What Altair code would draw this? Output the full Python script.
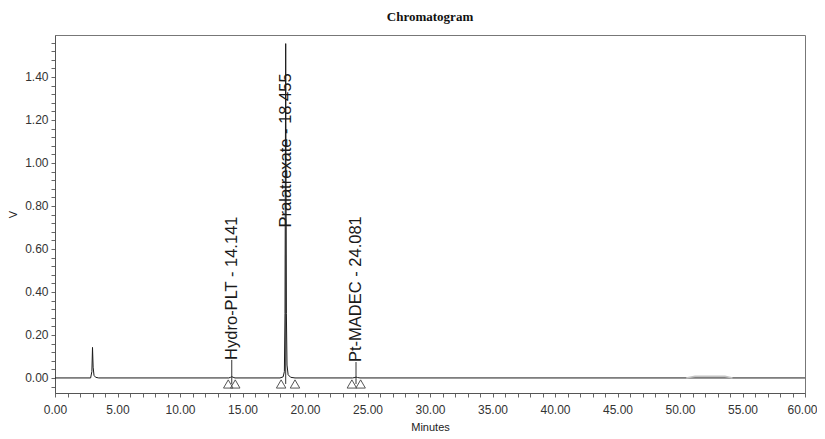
import altair as alt
import pandas as pd

# ---- chromatogram trace (minutes, volts) ----
trace_time = [0.0, 2.85, 2.95, 3.0, 3.05, 3.12, 3.25, 3.5,
              13.9, 14.05, 14.141, 14.25, 14.4,
              18.0, 18.25, 18.35, 18.40, 18.43, 18.455, 18.48, 18.51, 18.56, 18.65, 18.85, 19.2,
              23.8, 24.0, 24.081, 24.2, 24.4,
              60.0]
trace_volt = [0.0, 0.0, 0.03, 0.142, 0.05, 0.012, 0.003, 0.0,
              0.0, 0.003, 0.006, 0.003, 0.0,
              0.0, 0.005, 0.03, 0.30, 1.0, 1.555, 1.0, 0.30, 0.06, 0.015, 0.003, 0.0,
              0.0, 0.002, 0.004, 0.002, 0.0,
              0.0]

# faint drift near the end of the run
drift_time = [50.5, 51.2, 53.6, 54.2]
drift_volt = [0.0, 0.008, 0.008, 0.0]

# peak annotations
peak_names = ["Hydro-PLT - 14.141", "Pralatrexate - 18.455", "Pt-MADEC - 24.081"]
peak_rt = [14.141, 18.455, 24.081]
label_at = [0.084, 0.70, 0.074]

# peak start / end markers
marker_time = [13.86, 14.42, 18.09, 19.20, 23.75, 24.45]
marker_level = -0.028

# axis ticks (minor every minute, labels every 5 minutes)
x_tick_values = list(range(0, 61))
y_tick_values = [-0.04, 0.0, 0.04, 0.08, 0.12, 0.16, 0.2, 0.24, 0.28, 0.32, 0.36, 0.4,
                 0.44, 0.48, 0.52, 0.56, 0.6, 0.64, 0.68, 0.72, 0.76, 0.8, 0.84, 0.88,
                 0.92, 0.96, 1.0, 1.04, 1.08, 1.12, 1.16, 1.2, 1.24, 1.28, 1.32, 1.36,
                 1.4, 1.44, 1.48, 1.52, 1.56]
x_lo, x_hi = 0, 60
y_lo, y_hi = -0.07, 1.595

trace = pd.DataFrame({"t": trace_time, "v": trace_volt})
drift = pd.DataFrame({"t": drift_time, "v": drift_volt})
peaks = pd.DataFrame({"t": peak_rt, "name": peak_names, "v": label_at,
                      "base": [marker_level] * len(peak_rt)})
markers = pd.DataFrame({"t": marker_time, "v": [marker_level] * len(marker_time)})

FONT = "Liberation Sans"
xs = alt.Scale(domain=[x_lo, x_hi], nice=False, zero=False)
ys = alt.Scale(domain=[y_lo, y_hi], nice=False, zero=False)

x_axis = alt.Axis(values=x_tick_values, grid=False, title="Minutes",
                  labelExpr="datum.value % 5 === 0 ? format(datum.value, '.2f') : ''",
                  labelOverlap=False, labelFlush=False,
                  labelOffset={"condition": {"test": "datum.value === 60", "value": -3}, "value": 0},
                  labelFont=FONT, labelFontSize=12, labelColor="#333", labelPadding=7,
                  tickSize=4, tickColor="#666", domainColor="#555",
                  titleFont=FONT, titleFontSize=11, titleFontWeight="normal",
                  titleColor="#222", titlePadding=6)
y_axis = alt.Axis(values=y_tick_values, grid=False, title="V",
                  labelExpr="abs(datum.value*5 - round(datum.value*5)) < 0.001 && datum.value > -0.01 ? format(datum.value, '.2f') : ''",
                  labelOverlap=False, labelFont=FONT, labelFontSize=12, labelColor="#333",
                  labelPadding=3, tickSize=4, tickColor="#666", domainColor="#555",
                  titleFont=FONT, titleFontSize=11, titleFontWeight="normal", titleColor="#222",
                  titlePadding=6)


def X(field="t"):
    return alt.X(f"{field}:Q", scale=xs, axis=x_axis)


def Y(field="v"):
    return alt.Y(f"{field}:Q", scale=ys, axis=y_axis)


line = alt.Chart(trace).mark_line(color="#1a1a1a", strokeWidth=1).encode(x=X(), y=Y())

drift_line = alt.Chart(drift).mark_line(color="#c4c4c4", strokeWidth=1.5).encode(x=X(), y=Y())

leaders = alt.Chart(peaks).mark_rule(color="#333", strokeWidth=1).encode(
    x=X(), y=Y("base"), y2="v:Q")

labels = alt.Chart(peaks).mark_text(angle=270, align="left", baseline="middle",
                                    font=FONT, fontSize=16.5, color="#1a1a1a").encode(
    x=X(), y=Y(), text="name:N")

tri = alt.Chart(markers).mark_point(shape="triangle-up", filled=False, size=90,
                                    color="#555", strokeWidth=1, opacity=1).encode(x=X(), y=Y())

chart = alt.layer(line, drift_line, leaders, tri, labels).properties(
    width=750, height=358,
    title=alt.Title("Chromatogram", font="Liberation Serif", fontSize=13, fontWeight="bold",
                    color="#111", offset=11, anchor="middle"),
    autosize=alt.AutoSizeParams(type="none"),
    padding={"left": 47, "top": 27, "right": 12, "bottom": 40},
).configure_view(stroke="#777", strokeWidth=1)

chart.save("out.html", embed_options={"renderer": "svg", "actions": False})
